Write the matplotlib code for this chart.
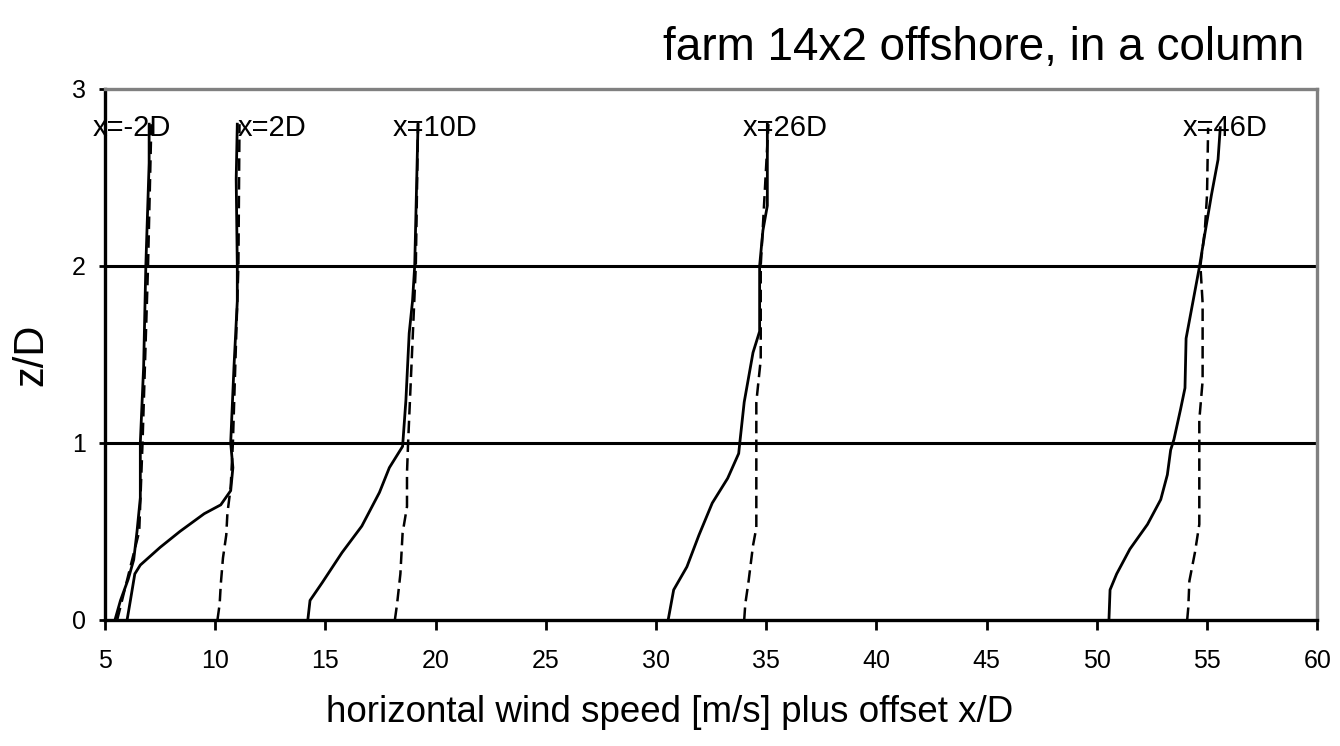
import matplotlib
matplotlib.use("Agg")
import matplotlib.pyplot as plt

plt.rcParams['font.family'] = ['Liberation Sans', 'DejaVu Sans']

# profiles: solid = computed, dashed = reference; x already includes offset x/D
z_m2 = [0, 0.11, 0.23, 0.34, 0.5, 0.69, 1.0, 1.43, 2.0, 2.58, 2.8]
u_m2 = [5.45, 5.7, 6.05, 6.3, 6.45, 6.6, 6.6, 6.75, 6.85, 7.0, 7.0]
zd_m2 = [0, 0.5, 1.0, 2.0, 2.8]
ud_m2 = [5.55, 6.55, 6.7, 6.95, 7.1]

z_2 = [0, 0.11, 0.26, 0.31, 0.41, 0.5, 0.6, 0.65, 0.73, 0.86, 1.0, 1.43, 1.8, 2.0, 2.49, 2.8]
u_2 = [6.0, 6.15, 6.35, 6.6, 7.5, 8.4, 9.5, 10.25, 10.7, 10.8, 10.7, 10.85, 11.0, 11.0, 10.95, 11.0]
zd_2 = [0, 0.09, 0.2, 0.35, 0.48, 0.6, 0.75, 1.0, 2.0, 2.8]
ud_2 = [10.1, 10.2, 10.25, 10.35, 10.5, 10.55, 10.7, 10.8, 11.05, 11.1]

z_10 = [0, 0.11, 0.21, 0.38, 0.53, 0.72, 0.86, 0.98, 1.24, 1.62, 1.8, 2.0, 2.8]
u_10 = [14.2, 14.3, 14.85, 15.75, 16.65, 17.45, 17.9, 18.5, 18.65, 18.8, 18.95, 19.05, 19.2]
zd_10 = [0, 0.09, 0.26, 0.49, 0.64, 0.83, 1.0, 2.0, 2.8]
ud_10 = [18.15, 18.25, 18.4, 18.5, 18.7, 18.7, 18.75, 19.1, 19.2]

z_26 = [0, 0.17, 0.30, 0.48, 0.66, 0.80, 0.94, 1.0, 1.23, 1.51, 1.63, 2.0, 2.2, 2.34, 2.8]
u_26 = [30.55, 30.8, 31.4, 31.95, 32.55, 33.25, 33.75, 33.8, 34.0, 34.4, 34.7, 34.7, 34.85, 35.05, 35.05]
zd_26 = [0, 0.09, 0.22, 0.42, 0.52, 0.93, 1.23, 1.47, 1.63, 2.0, 2.8]
ud_26 = [34.0, 34.05, 34.2, 34.4, 34.55, 34.55, 34.55, 34.75, 34.75, 34.75, 35.1]

z_46 = [0, 0.17, 0.26, 0.40, 0.54, 0.68, 0.82, 0.96, 1.02, 1.19, 1.31, 1.59, 1.79, 1.99, 2.18, 2.40, 2.60, 2.78]
u_46 = [50.55, 50.6, 50.9, 51.5, 52.3, 52.9, 53.2, 53.35, 53.5, 53.8, 54.0, 54.05, 54.35, 54.65, 54.9, 55.2, 55.5, 55.6]
zd_46 = [0, 0.07, 0.22, 0.38, 0.54, 0.93, 1.13, 1.35, 1.79, 2.0, 2.2, 2.4, 2.78]
ud_46 = [54.1, 54.15, 54.2, 54.45, 54.65, 54.65, 54.65, 54.8, 54.8, 54.7, 54.9, 55.0, 55.05]

labels = ['x=-2D', 'x=2D', 'x=10D', 'x=26D', 'x=46D']
label_x = [4.42, 11.0, 18.07, 33.95, 53.9]
label_z = 2.78

xticks = [5, 10, 15, 20, 25, 30, 35, 40, 45, 50, 55, 60]
yticks = [0, 1, 2, 3]

fig = plt.figure(figsize=(13.4, 7.46), dpi=100)
ax = fig.add_axes([0.0784, 0.169, 0.9046, 0.712])

solid = [(u_m2, z_m2), (u_2, z_2), (u_10, z_10), (u_26, z_26), (u_46, z_46)]
dashed = [(ud_m2, zd_m2), (ud_2, zd_2), (ud_10, zd_10), (ud_26, zd_26), (ud_46, zd_46)]
for u, z in dashed:
    ax.plot(u, z, color='black', lw=1.8, linestyle=(0, (5, 2.5)))
for u, z in solid:
    ax.plot(u, z, color='black', lw=2.0)

for lab, lx in zip(labels, label_x):
    ax.text(lx, label_z, lab, ha='left', va='center', fontsize=21, clip_on=False)

for gz in [1, 2]:
    ax.axhline(gz, color='black', lw=2.2, zorder=0)

ax.set_xlim(5, 60)
ax.set_ylim(0, 3)
ax.set_xticks(xticks)
ax.set_yticks(yticks)
ax.tick_params(axis='x', direction='out', length=7, width=2, pad=14, labelsize=18)
ax.tick_params(axis='y', direction='out', length=4, width=2, pad=10, labelsize=18)

for s in ['left', 'bottom']:
    ax.spines[s].set_color('black')
    ax.spines[s].set_linewidth(2.4)
for s in ['top', 'right']:
    ax.spines[s].set_color('#808080')
    ax.spines[s].set_linewidth(2.4)

ax.set_xlabel('horizontal wind speed [m/s] plus offset x/D', fontsize=26.5)
ax.xaxis.set_label_coords(0.466, -0.142)
ax.set_ylabel('z/D', fontsize=30)
ax.yaxis.set_label_coords(-0.044, 0.5)
fig.text(0.973, 0.935, 'farm 14x2 offshore, in a column', ha='right', va='center', fontsize=33)

plt.savefig('out.png', dpi=100)
